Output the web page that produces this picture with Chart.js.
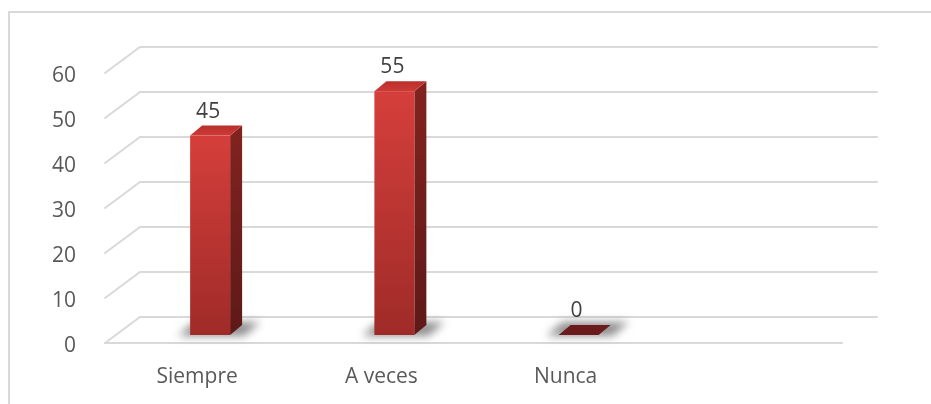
<!DOCTYPE html>
<html>
<head>
<meta charset="utf-8">
<title>Frecuencia</title>
<script src="https://cdn.jsdelivr.net/npm/chart.js@4.4.1/dist/chart.umd.min.js"></script>
<style>
  html, body { margin: 0; padding: 0; background: #ffffff; }
  #wrap { width: 931px; height: 404px; }
</style>
</head>
<body>
<div id="wrap"><canvas id="chart" width="931" height="404"></canvas></div>
<script>
// Categories, values and axis ticks
const categories = ['Siempre', 'A veces', 'Nunca', ''];
const values = [45, 55, 0, null];
const yTicks = [0, 10, 20, 30, 40, 50, 60];

// Perspective settings for the pseudo-3D look
const WALL_DX = 35, WALL_DY = 26;    // back wall offset from the front plane
const BAR_DX = 13, BAR_DY = 8;       // where the bars stand on the floor
const DEPTH_DX = 12, DEPTH_DY = 10;  // bar depth (side and top faces)
const GRID_COLOR = '#d9d9d9';
const FONT = '"Open Sans"';

// Frame around the whole chart
const framePlugin = {
  id: 'frame',
  beforeDraw(chart) {
    const ctx = chart.ctx;
    ctx.save();
    ctx.strokeStyle = GRID_COLOR;
    ctx.lineWidth = 2;
    ctx.beginPath();
    ctx.moveTo(9, 410);
    ctx.lineTo(9, 12);
    ctx.lineTo(940, 12);
    ctx.stroke();
    ctx.restore();
  }
};

// Back wall gridlines, side diagonals and the floor edge
const wallPlugin = {
  id: 'wall',
  beforeDatasetsDraw(chart) {
    const ctx = chart.ctx;
    const y = chart.scales.y;
    const area = chart.chartArea;
    ctx.save();
    ctx.strokeStyle = GRID_COLOR;
    ctx.lineWidth = 2;
    ctx.lineCap = 'round';
    yTicks.forEach(v => {
      const py = y.getPixelForValue(v);
      ctx.beginPath();
      ctx.moveTo(area.left, py);
      ctx.lineTo(area.left + WALL_DX, py - WALL_DY);
      ctx.lineTo(area.right + WALL_DX, py - WALL_DY);
      ctx.stroke();
    });
    const p0 = y.getPixelForValue(0);
    ctx.beginPath();
    ctx.moveTo(area.left, p0);
    ctx.lineTo(area.right, p0);
    ctx.stroke();
    ctx.restore();
  }
};

function poly(ctx, pts) {
  ctx.beginPath();
  ctx.moveTo(pts[0][0], pts[0][1]);
  for (let i = 1; i < pts.length; i++) ctx.lineTo(pts[i][0], pts[i][1]);
  ctx.closePath();
}

// Bars as boxes: floor shadow, side, top and front faces, plus value labels
const boxPlugin = {
  id: 'box',
  afterDatasetsDraw(chart) {
    const ctx = chart.ctx;
    const y = chart.scales.y;
    const meta = chart.getDatasetMeta(0);
    const p0 = y.getPixelForValue(0);
    meta.data.forEach((el, i) => {
      const v = values[i];
      if (v === null || v === undefined) return;
      const cx = el.x + BAR_DX;
      const w = el.width;
      const x0 = cx - w / 2, x1 = cx + w / 2;
      const yb = p0 - BAR_DY;
      const yt = yb - (p0 - y.getPixelForValue(v)) * 0.985;

      // soft shadow on the floor
      ctx.save();
      ctx.filter = 'blur(4px)';
      ctx.fillStyle = 'rgba(50,50,50,0.55)';
      poly(ctx, [[x0 - 12, yb + 1], [x1 + 14, yb + 1], [x1 + DEPTH_DX + 18, yb - DEPTH_DY - 3], [x0 + DEPTH_DX - 8, yb - DEPTH_DY - 3]]);
      ctx.fill();
      ctx.restore();

      ctx.save();
      if (yb - yt < 1) {
        // zero value: only the flat top is visible
        ctx.fillStyle = '#6b1b1b';
        poly(ctx, [[x0, yb], [x1, yb], [x1 + DEPTH_DX, yb - DEPTH_DY], [x0 + DEPTH_DX, yb - DEPTH_DY]]);
        ctx.fill();
      } else {
        // side face
        const gs = ctx.createLinearGradient(0, yt, 0, yb);
        gs.addColorStop(0, '#80231f');
        gs.addColorStop(1, '#5e1918');
        ctx.fillStyle = gs;
        poly(ctx, [[x1, yt], [x1 + DEPTH_DX, yt - DEPTH_DY], [x1 + DEPTH_DX, yb - DEPTH_DY], [x1, yb]]);
        ctx.fill();
        // top face
        const gt = ctx.createLinearGradient(0, yt - DEPTH_DY, 0, yt);
        gt.addColorStop(0, '#b8302c');
        gt.addColorStop(1, '#cf3a36');
        ctx.fillStyle = gt;
        poly(ctx, [[x0, yt], [x1, yt], [x1 + DEPTH_DX, yt - DEPTH_DY], [x0 + DEPTH_DX, yt - DEPTH_DY]]);
        ctx.fill();
        // front face
        const gf = ctx.createLinearGradient(0, yt, 0, yb);
        gf.addColorStop(0, '#d53f3b');
        gf.addColorStop(1, '#9f2b28');
        ctx.fillStyle = gf;
        ctx.fillRect(x0, yt, w, yb - yt);
      }
      ctx.restore();

      // value label
      ctx.save();
      ctx.fillStyle = '#404040';
      ctx.font = '21px ' + FONT;
      ctx.textAlign = 'center';
      ctx.textBaseline = 'middle';
      ctx.fillText(String(v), cx - 2, yt - DEPTH_DY - 14);
      ctx.restore();
    });
  }
};

new Chart(document.getElementById('chart'), {
  type: 'bar',
  data: {
    labels: categories,
    datasets: [{
      data: values,
      backgroundColor: 'rgba(0,0,0,0)',
      borderWidth: 0,
      categoryPercentage: 1,
      barPercentage: 0.217
    }]
  },
  options: {
    responsive: false,
    animation: false,
    events: [],
    layout: { padding: { left: 0, right: 89, top: 73, bottom: 0 } },
    plugins: { legend: { display: false }, tooltip: { enabled: false }, title: { display: false } },
    scales: {
      x: {
        grid: { display: false },
        border: { display: false },
        ticks: {
          color: '#595959',
          font: { family: FONT, size: 21 },
          padding: 13,
          maxRotation: 0,
          autoSkip: false
        },
        afterFit(scale) { scale.height = 61; }
      },
      y: {
        min: 0,
        max: 60,
        grid: { display: false },
        border: { display: false },
        ticks: {
          stepSize: 10,
          color: '#595959',
          font: { family: FONT, size: 21 },
          padding: 21,
          labelOffset: 3
        },
        afterFit(scale) { scale.width = 105; }
      }
    }
  },
  plugins: [framePlugin, wallPlugin, boxPlugin]
});
</script>
</body>
</html>
